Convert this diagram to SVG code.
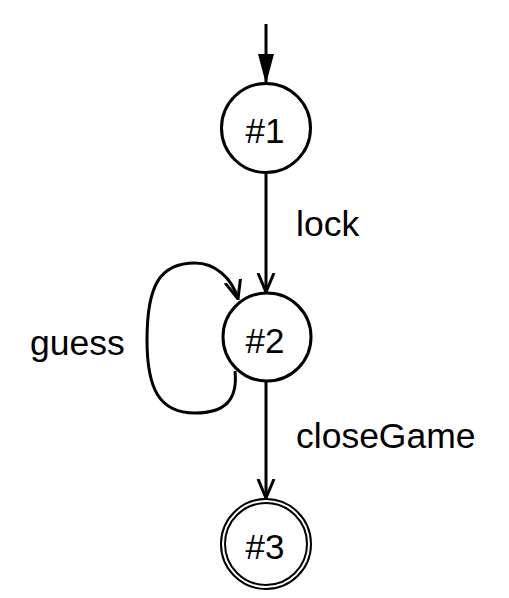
<svg xmlns="http://www.w3.org/2000/svg" width="509" height="598" viewBox="0 0 509 598">
<defs>
<marker id="open" viewBox="0 0 20 20" refX="19" refY="10" markerWidth="20" markerHeight="20" markerUnits="userSpaceOnUse" orient="auto">
<path d="M0,2 L19,10 L0,18" fill="none" stroke="#000" stroke-width="3"/>
</marker>
<marker id="filled" viewBox="0 0 30 20" refX="30" refY="10" markerWidth="30" markerHeight="20" markerUnits="userSpaceOnUse" orient="auto">
<path d="M0,2 L30,10 L0,18 Z" fill="#000"/>
</marker>
</defs>
<style>
.st{fill:#fff;stroke:#000;stroke-width:3}
.st2{fill:none;stroke:#000;stroke-width:2}
.e{fill:none;stroke:#000;stroke-width:3}
.t{font-family:"Liberation Sans",Arial,sans-serif;font-size:35.5px;fill:#000}
.n{font-family:"Liberation Sans",Arial,sans-serif;font-size:35px;fill:#000;text-anchor:middle}
</style>
<rect width="509" height="598" fill="#fff"/>
<g id="connectors">
<path class="e" d="M266,24 L266,84" marker-end="url(#filled)"/>
<path class="e" d="M266,173 L266,292" marker-end="url(#open)"/>
<path class="e" d="M266,381 L266,498" marker-end="url(#open)"/>
<path class="e" d="M235,371 C238,400 225,413 195,413 C160,413 147,390 147,340 C147,285 160,263 195,263 C215,263 232,278 238,299" marker-end="url(#open)"/>
</g>
<g id="labels">
<text class="t" x="296" y="236">lock</text>
<text class="t" x="30" y="355">guess</text>
<text class="t" x="296" y="448">closeGame</text>
</g>
<g id="s1">
<circle class="st" cx="266" cy="128" r="44.5"/>
<text class="n" x="265" y="143">#1</text>
</g>
<g id="s2">
<circle class="st" cx="267" cy="337" r="44"/>
<text class="n" x="265" y="353">#2</text>
</g>
<g id="s3">
<circle class="st2" cx="266" cy="544" r="45"/>
<circle class="st2" cx="266" cy="544" r="41"/>
<text class="n" x="265" y="559">#3</text>
</g>
</svg>
